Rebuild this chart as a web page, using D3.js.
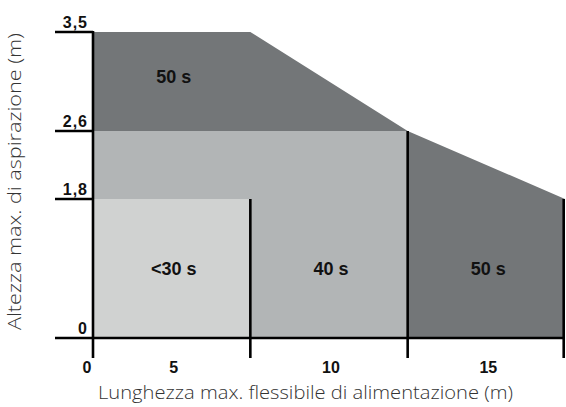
<!DOCTYPE html>
<html>
<head>
<meta charset="utf-8">
<script src="https://cdn.jsdelivr.net/npm/d3@7"></script>
<style>
  html, body { margin: 0; padding: 0; background: #fff; }
  svg { display: block; }
</style>
</head>
<body>
<svg id="chart" width="566" height="407"></svg>
<script>
// Hose length bands (m) and suction-height ticks (m)
const lengthBands = ["5", "10", "15"];
const heightTicks = [0, 1.8, 2.6, 3.5];
const heightTickLabels = ["0", "1,8", "2,6", "3,5"];

// Maximum suction height at the left edge and at the end of each band
const envelopeHeights = [3.5, 3.5, 2.6, 1.8];

// Priming-time zones: last band covered and height reached
const zoneFastBand = "5";
const zoneFastHeight = 1.8;
const zoneMidBand = "10";
const zoneMidHeight = 2.6;

// Zone labels: text, band, height of label centre
const zoneLabelTexts = ["50 s", "<30 s", "40 s", "50 s"];
const zoneLabelBands = ["5", "5", "10", "15"];
const zoneLabelHeights = [3.1, 0.9, 0.9, 0.9];

const svg = d3.select("#chart");

const x = d3.scaleBand().domain(lengthBands).range([93, 565]).paddingInner(0).paddingOuter(0);
const y = d3.scaleLinear().domain(heightTicks).range([338, 199, 131, 32]);

const edges = [x.range()[0]].concat(lengthBands.map(b => x(b) + x.bandwidth()));
const colDark = "#737678", colMid = "#b2b5b6", colLight = "#d0d2d1";

// 50 s envelope (dark)
const envPts = edges.map((e, i) => [e, y(envelopeHeights[i])]);
envPts.push([edges[edges.length - 1], y(0)], [edges[0], y(0)]);
svg.append("path")
  .attr("d", d3.line()(envPts) + "Z")
  .attr("fill", colDark);

// 40 s zone (mid grey)
svg.append("rect")
  .attr("x", edges[0])
  .attr("y", y(zoneMidHeight))
  .attr("width", x(zoneMidBand) + x.bandwidth() - edges[0])
  .attr("height", y(0) - y(zoneMidHeight))
  .attr("fill", colMid);

// <30 s zone (light grey)
svg.append("rect")
  .attr("x", edges[0])
  .attr("y", y(zoneFastHeight))
  .attr("width", x(zoneFastBand) + x.bandwidth() - edges[0])
  .attr("height", y(0) - y(zoneFastHeight))
  .attr("fill", colLight);

// Zone labels
svg.selectAll("text.zone")
  .data(zoneLabelTexts)
  .join("text")
  .attr("class", "zone")
  .attr("x", (d, i) => x(zoneLabelBands[i]) + x.bandwidth() / 2 + 2)
  .attr("y", (d, i) => y(zoneLabelHeights[i]) + 6.5)
  .attr("text-anchor", "middle")
  .attr("font-family", "'Liberation Sans', Arial, sans-serif")
  .attr("font-weight", "bold")
  .attr("font-size", 18)
  .attr("fill", "#111")
  .text(d => d);

const ink = "#000";
const sw = 2.6;

// Height ticks: horizontal lines from the labels to the axis
svg.selectAll("line.htick")
  .data(heightTicks)
  .join("line")
  .attr("class", "htick")
  .attr("x1", 55)
  .attr("x2", (d, i) => i === 0 ? edges[edges.length - 1] : edges[0])
  .attr("y1", d => y(d))
  .attr("y2", d => y(d))
  .attr("stroke", ink)
  .attr("stroke-width", sw);

// Vertical axis
svg.append("line")
  .attr("x1", edges[0]).attr("x2", edges[0])
  .attr("y1", y(3.5) - 1).attr("y2", 358)
  .attr("stroke", ink).attr("stroke-width", sw);

// Band boundaries, from the top of the zone below down to the tick
const boundaryTops = [zoneFastHeight, zoneMidHeight, envelopeHeights[3]];
svg.selectAll("line.bound")
  .data(lengthBands)
  .join("line")
  .attr("class", "bound")
  .attr("x1", d => x(d) + x.bandwidth() - (d === "15" ? 1.3 : 0))
  .attr("x2", d => x(d) + x.bandwidth() - (d === "15" ? 1.3 : 0))
  .attr("y1", (d, i) => y(boundaryTops[i]))
  .attr("y2", 358)
  .attr("stroke", ink).attr("stroke-width", sw);

// Height tick labels
svg.selectAll("text.hlab")
  .data(heightTicks)
  .join("text")
  .attr("class", "hlab")
  .attr("x", 88)
  .attr("y", d => y(d) - 4)
  .attr("text-anchor", "end")
  .attr("font-family", "'Liberation Sans', Arial, sans-serif")
  .attr("font-weight", "bold")
  .attr("font-size", 16)
  .attr("letter-spacing", 1)
  .attr("fill", "#111")
  .text((d, i) => heightTickLabels[i]);

// Length labels
svg.append("text")
  .attr("x", edges[0] - 6).attr("y", 373)
  .attr("text-anchor", "middle")
  .attr("font-family", "'Liberation Sans', Arial, sans-serif")
  .attr("font-weight", "bold").attr("font-size", 16).attr("fill", "#111")
  .text("0");
svg.selectAll("text.xlab")
  .data(lengthBands)
  .join("text")
  .attr("class", "xlab")
  .attr("x", d => x(d) + x.bandwidth() / 2 + 2)
  .attr("y", 373)
  .attr("text-anchor", "middle")
  .attr("font-family", "'Liberation Sans', Arial, sans-serif")
  .attr("font-weight", "bold").attr("font-size", 16).attr("fill", "#111")
  .text(d => d);

// Axis titles
svg.append("text")
  .attr("x", 98).attr("y", 399)
  .attr("font-family", "'Open Sans', sans-serif")
  .attr("font-weight", 300)
  .attr("font-size", 18).attr("fill", "#333")
  .attr("textLength", 415).attr("lengthAdjust", "spacingAndGlyphs")
  .text("Lunghezza max. flessibile di alimentazione (m)");

svg.append("text")
  .attr("transform", "translate(21,330) rotate(-90)")
  .attr("font-family", "'Open Sans', sans-serif")
  .attr("font-weight", 300)
  .attr("font-size", 18).attr("fill", "#333")
  .attr("textLength", 297).attr("lengthAdjust", "spacingAndGlyphs")
  .text("Altezza max. di aspirazione (m)");
</script>
</body>
</html>
